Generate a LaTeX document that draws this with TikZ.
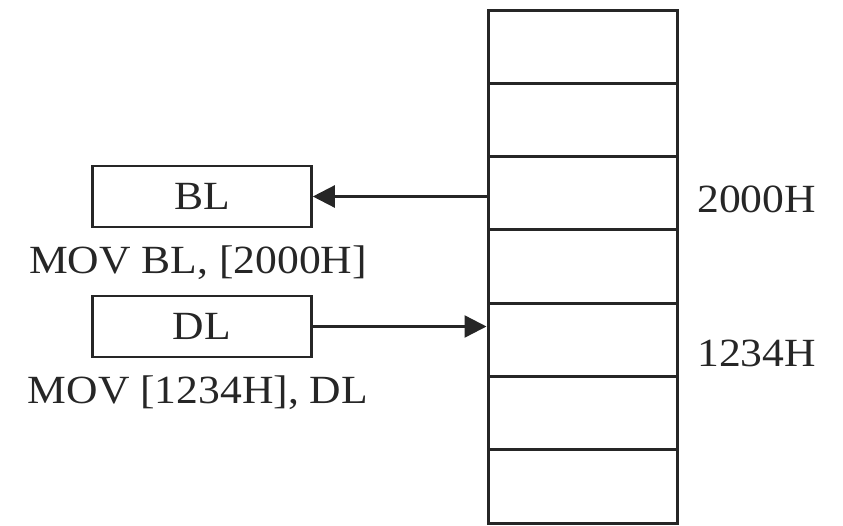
\documentclass[tikz,border=0pt]{standalone}
\usepackage{fontspec}
\setmainfont{Liberation Serif}[FakeStretch=1.09]
\usetikzlibrary{arrows.meta,positioning}

\colorlet{ink}{black!85}
\tikzset{
    cell/.style={draw=ink, line width=3pt, minimum width=189pt, minimum height=73.3pt, inner sep=0pt},
    reg/.style={draw=ink, line width=2.6pt, minimum width=219pt, minimum height=61pt, inner sep=0pt},
    arr/.style={draw=ink, line width=2.4pt, -{Triangle[length=22pt,width=22pt]}},
    lbl/.style={font=\fontsize{40}{46}\selectfont, text=ink, inner sep=0pt}
}

\begin{document}
\begin{tikzpicture}[x=1pt, y=-1pt]
    \useasboundingbox (0, 0) rectangle (843, 525);

    % memory column
    \foreach \k in {1,...,7}
        \node[cell] (cell\k) at (582.5, {10 + 36.65 + (\k-1)*73.3}) {};
    \node[lbl, anchor=west] (a2000) at (697, 199) {2000H};
    \node[lbl, anchor=west] (a1234) at (697, 353) {1234H};

    % registers
    \node[reg, lbl] (bl) at (202, 196.5) {BL};
    \node[lbl] (movbl) at (198, 263) {MOV BL, [2000H]};
    \node[reg, lbl] (dl) at (202, 326.5) {DL};
    \node[lbl] (movdl) at (198, 393) {MOV [1234H], DL};

    % transfers
    \draw[arr] (cell3.west |- bl.east) -- (bl.east);
    \draw[arr] (dl.east) -- (dl.east -| cell5.west);
\end{tikzpicture}
\end{document}
